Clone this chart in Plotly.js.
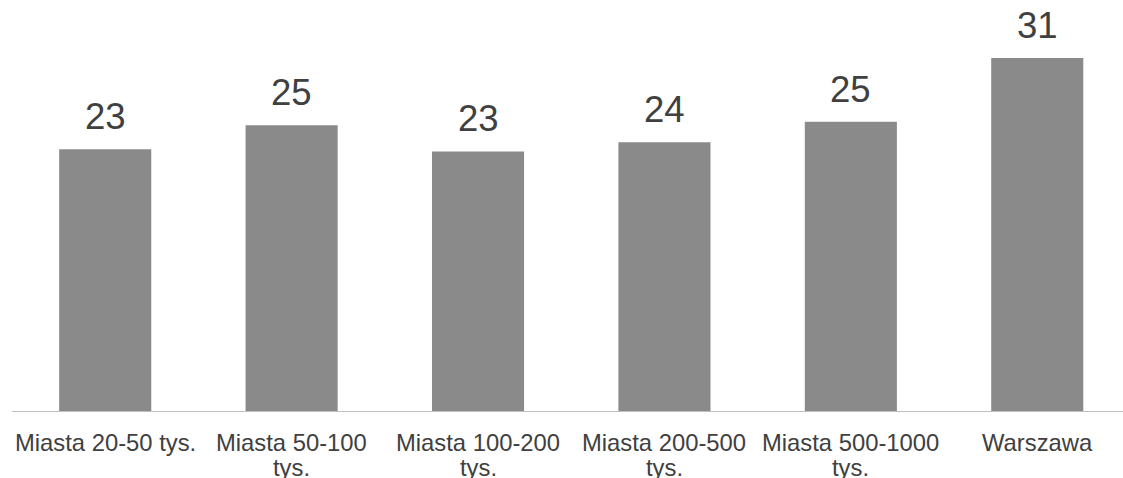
<!DOCTYPE html>
<html>
<head>
<meta charset="utf-8">
<script src="https://cdn.plot.ly/plotly-3.0.1.min.js"></script>
<style>
  html, body { margin: 0; padding: 0; background: #ffffff; }
  #chart { width: 1123px; height: 478px; }
</style>
</head>
<body>
<div id="chart"></div>
<script>
// City size groups (line breaks mark where each label wraps) and their values
const categories = [
  'Miasta 20-50 tys.',
  'Miasta 50-100<br>tys.',
  'Miasta 100-200<br>tys.',
  'Miasta 200-500<br>tys.',
  'Miasta 500-1000<br>tys.',
  'Warszawa'
];
const values = [23.0, 25.1, 22.8, 23.6, 25.4, 31.0];
// Labels shown above the bars: each value rounded to a whole number
const valueLabels = values.map(v => String(Math.round(v)));

const textColor = '#404040';
const fontFamily = 'Liberation Sans, Arial, sans-serif';

const trace = {
  type: 'bar',
  x: categories,
  y: values,
  width: 0.494,
  marker: { color: '#8a8a8a', line: { width: 0 } },
  hoverinfo: 'skip'
};

// Value labels above each bar
const annotations = categories.map((c, i) => ({
  x: c,
  y: values[i],
  xref: 'x',
  yref: 'y',
  text: valueLabels[i],
  showarrow: false,
  yanchor: 'bottom',
  yshift: 10,
  font: { family: fontFamily, size: 36.5, color: textColor }
}));

// Category labels under the axis, one annotation per line so the
// wrapped lines sit closer together than the default tick spacing
categories.forEach(c => {
  c.split('<br>').forEach((line, k) => {
    annotations.push({
      x: c,
      y: 0,
      xref: 'x',
      yref: 'paper',
      text: line,
      showarrow: false,
      yanchor: 'top',
      yshift: -16 - 24.5 * k,
      font: { family: fontFamily, size: 23.8, color: textColor }
    });
  });
});

const layout = {
  width: 1123,
  height: 478,
  margin: { l: 12, r: 0, t: 0, b: 67 },
  paper_bgcolor: '#ffffff',
  plot_bgcolor: '#ffffff',
  showlegend: false,
  font: { family: fontFamily, color: textColor },
  xaxis: {
    type: 'category',
    range: [-0.5, 5.46],
    showgrid: false,
    zeroline: false,
    showline: true,
    linecolor: '#bfbfbf',
    linewidth: 1,
    ticks: '',
    showticklabels: false
  },
  yaxis: {
    range: [0, 36.1],
    visible: false,
    showgrid: false,
    zeroline: false
  },
  annotations: annotations
};

Plotly.newPlot('chart', [trace], layout, { displayModeBar: false, staticPlot: true });
</script>
</body>
</html>
